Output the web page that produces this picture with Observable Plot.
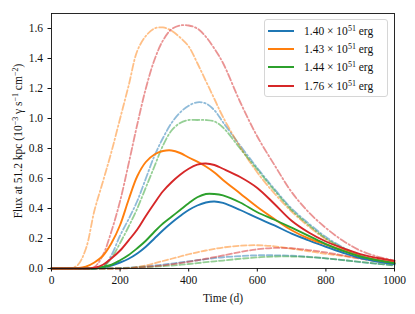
<!DOCTYPE html>
<html><head><meta charset="utf-8">
<script src="https://cdn.jsdelivr.net/npm/d3@7"></script>
<script src="https://cdn.jsdelivr.net/npm/@observablehq/plot@0.6"></script>
<style>
body{margin:0;background:#fff}
#wrap{position:relative;width:415px;height:314px;font-family:"Liberation Serif",serif}
#legend{position:absolute;left:264px;top:19px;width:124px;height:78px;box-sizing:border-box;border:1px solid #d6d6d6;border-radius:3px;background:rgba(255,255,255,0.8);font-size:11.5px;color:#111}
.row{position:absolute;left:0;height:18px;display:flex;align-items:center;white-space:nowrap}
.sw{width:26px;height:0;border-top:2px solid;margin-left:3px;margin-right:10px}
sup{font-size:8px;line-height:0;vertical-align:4px}
</style></head>
<body><div id="wrap"></div>
<script>
const days = [0,50,75,100,125,150,175,200,225,250,275,300,325,350,375,400,425,450,475,500,550,600,650,700,750,800,850,900,950,1000];

const solid140 = [0,0,0,0,0.002,0.008,0.02,0.04,0.065,0.1,0.145,0.2,0.255,0.305,0.35,0.39,0.42,0.44,0.447,0.437,0.39,0.337,0.287,0.233,0.188,0.145,0.105,0.07,0.047,0.03];
const solid143 = [0,0,0.002,0.012,0.04,0.085,0.17,0.29,0.46,0.615,0.71,0.76,0.783,0.787,0.77,0.74,0.712,0.68,0.64,0.59,0.5,0.41,0.33,0.255,0.2,0.16,0.12,0.083,0.057,0.04];
const solid144 = [0,0,0,0,0.002,0.01,0.025,0.055,0.09,0.135,0.185,0.245,0.3,0.345,0.39,0.435,0.475,0.497,0.497,0.487,0.44,0.375,0.325,0.272,0.218,0.163,0.117,0.08,0.055,0.035];
const solid176 = [0,0,0,0,0.005,0.025,0.068,0.12,0.188,0.26,0.35,0.435,0.515,0.575,0.625,0.665,0.692,0.7,0.69,0.665,0.61,0.537,0.43,0.318,0.24,0.18,0.135,0.096,0.07,0.05];

const dashdot140 = [0,0,0,0,0,0.01,0.09,0.22,0.33,0.45,0.6,0.75,0.87,0.97,1.04,1.085,1.108,1.1,1.055,0.975,0.82,0.67,0.53,0.4,0.3,0.21,0.14,0.087,0.055,0.035];
const dashdot143 = [0,0,0.02,0.13,0.385,0.58,0.78,1.0,1.22,1.45,1.55,1.6,1.607,1.585,1.54,1.48,1.37,1.25,1.13,1.01,0.81,0.64,0.5,0.38,0.28,0.195,0.13,0.08,0.052,0.035];
const dashdot144 = [0,0,0,0,0,0.01,0.07,0.17,0.28,0.4,0.54,0.68,0.82,0.92,0.97,0.99,0.99,0.99,0.98,0.94,0.8,0.66,0.52,0.39,0.29,0.2,0.135,0.085,0.052,0.03];
const dashdot176 = [0,0,0,0,0.01,0.09,0.25,0.45,0.7,0.96,1.2,1.39,1.52,1.595,1.62,1.62,1.6,1.545,1.465,1.37,1.11,0.88,0.69,0.51,0.375,0.27,0.185,0.12,0.08,0.053];

const dashed140 = [0,0,0,0,0,0,0.001,0.003,0.006,0.01,0.015,0.02,0.026,0.033,0.04,0.048,0.055,0.062,0.069,0.075,0.083,0.088,0.088,0.085,0.078,0.068,0.056,0.043,0.032,0.022];
const dashed143 = [0,0,0,0,0,0,0,0,0.002,0.01,0.02,0.035,0.05,0.065,0.08,0.095,0.108,0.12,0.131,0.14,0.152,0.155,0.148,0.132,0.115,0.098,0.083,0.068,0.052,0.036];
const dashed144 = [0,0,0,0,0,0,0.001,0.002,0.004,0.006,0.009,0.012,0.016,0.02,0.025,0.03,0.036,0.042,0.048,0.053,0.065,0.074,0.08,0.08,0.076,0.068,0.056,0.044,0.032,0.02];
const dashed176 = [0,0,0,0,0,0,0,0,0.002,0.005,0.01,0.015,0.021,0.028,0.036,0.045,0.055,0.065,0.076,0.087,0.11,0.128,0.137,0.135,0.123,0.107,0.087,0.066,0.046,0.03];

const models = ["1.40","1.43","1.44","1.76"];
const colors = ["#1f77b4","#ff7f0e","#2ca02c","#d62728"];
const xTicks = [0,200,400,600,800,1000];
const yTicks = [0,0.2,0.4,0.6,0.8,1.0,1.2,1.4,1.6];

const solids = [solid140,solid143,solid144,solid176];
const dashdots = [dashdot140,dashdot143,dashdot144,dashdot176];
const dasheds = [dashed140,dashed143,dashed144,dashed176];

const toRows = vals => days.map((d,i)=>({day:d, value:vals[i]}));
const marks = [];
dasheds.forEach((v,i)=>marks.push(Plot.line(toRows(v),{x:"day",y:"value",stroke:colors[i],strokeWidth:1.8,strokeOpacity:0.5,strokeDasharray:"5.5,2.5",curve:"catmull-rom"})));
dashdots.forEach((v,i)=>marks.push(Plot.line(toRows(v),{x:"day",y:"value",stroke:colors[i],strokeWidth:1.8,strokeOpacity:0.5,strokeDasharray:"7,2.5,1.5,2.5",curve:"catmull-rom"})));
solids.forEach((v,i)=>marks.push(Plot.line(toRows(v),{x:"day",y:"value",stroke:colors[i],strokeWidth:1.9,curve:"catmull-rom"})));

const chart = Plot.plot({
  width:415, height:314,
  marginLeft:51, marginRight:21, marginTop:13, marginBottom:46,
  style:{fontFamily:"Liberation Serif, serif", fontSize:"11.5px", color:"#111", background:"#fff"},
  x:{domain:[0,1000]},
  y:{domain:[0,1.7]},
  marks:[
    ...marks,
    Plot.frame({stroke:"#111", strokeWidth:0.9}),
    Plot.axisX({ticks:xTicks, tickSize:3.5, tickPadding:4, tickFormat:d3.format("d"), label:"Time (d)", labelAnchor:"center", labelArrow:"none", labelOffset:33}),
    Plot.axisY({ticks:yTicks, tickSize:3.5, tickPadding:5, tickFormat:d3.format(".1f"), label:"Flux at 51.2 kpc (10-3 γ s-1 cm-2)", labelAnchor:"center", labelArrow:"none", labelOffset:38})
  ]
});
const wrap = document.getElementById("wrap");
wrap.appendChild(chart);

// y-axis label with true superscripts
const yl = chart.querySelector('[aria-label="y-axis label"] text');
if (yl) {
  const parts = [["Flux at 51.2 kpc (10",0],["−3",1],[" γ s",0],["−1",1],[" cm",0],["−2",1],[")",0]];
  yl.textContent = "";
  let up = false;
  parts.forEach(([t,s])=>{
    const ts = document.createElementNS("http://www.w3.org/2000/svg","tspan");
    ts.textContent = t;
    if (s) { ts.setAttribute("font-size","8px"); ts.setAttribute("dy","-4"); up = true; }
    else if (up) { ts.setAttribute("dy","4"); up = false; }
    yl.appendChild(ts);
  });
}

// legend
const lg = document.createElement("div");
lg.id = "legend";
models.forEach((m,i)=>{
  const r = document.createElement("div");
  r.className = "row";
  r.style.top = (1.5 + i*18.35) + "px";
  r.innerHTML = `<span class="sw" style="border-color:${colors[i]}"></span><span>${m} × 10<sup>51</sup> erg</span>`;
  lg.appendChild(r);
});
wrap.appendChild(lg);
</script></body></html>
